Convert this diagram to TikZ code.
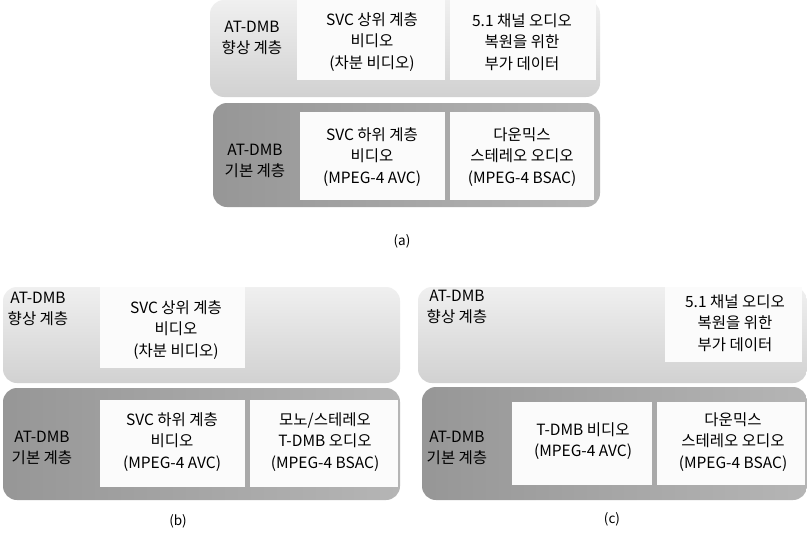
\documentclass[tikz,border=0pt]{standalone}
\usepackage{fontspec}
\setmainfont{Noto Sans CJK KR}
\begin{document}
\begin{tikzpicture}[x=1pt,y=-1pt,
  lightpanel/.style={rounded corners=14pt, top color=gray!12, bottom color=gray!36, draw=none},
  darkpanel/.style={rounded corners=14pt, left color=gray!82, right color=gray!58, draw=none},
  whitebox/.style={fill=gray!3, draw=none},
  txt/.style={align=center, font=\fontsize{15.5}{21.5}\selectfont, inner sep=0pt},
  caption/.style={font=\fontsize{13.5}{15}\selectfont, inner sep=0pt}]
\useasboundingbox (0,0) rectangle (807,541);
\fill[white] (0,0) rectangle (807,541);

% ---------------- (a)
\path[lightpanel] (210,0) rectangle (600,97);
\path[whitebox] (297,0) rectangle (445,80);
\path[whitebox] (450,0) rectangle (596,80);
\node[txt] (aL1) at (252,38) {AT-DMB\\향상 계층};
\node[txt] (aT1) at (372,42) {SVC 상위 계층\\비디오\\(차분 비디오)};
\node[txt] (aT2) at (522,42) {5.1 채널 오디오\\복원을 위한\\부가 데이터};
\path[darkpanel] (213,103) rectangle (600,207);
\path[whitebox] (300,112) rectangle (445,200);
\path[whitebox] (450,112) rectangle (594,200);
\node[txt] (aL2) at (255,161) {AT-DMB\\기본 계층};
\node[txt] (aB1) at (372,157) {SVC 하위 계층\\비디오\\(MPEG-4 AVC)};
\node[txt] (aB2) at (522,157) {다운믹스\\스테레오 오디오\\(MPEG-4 BSAC)};
\node[caption] (capa) at (402,241) {(a)};

% ---------------- (b)
\path[lightpanel] (3,287) rectangle (400,383);
\path[whitebox] (100,287) rectangle (245,368);
\node[txt] (bL1) at (38,309) {AT-DMB\\향상 계층};
\node[txt] (bT1) at (176,330) {SVC 상위 계층\\비디오\\(차분 비디오)};
\path[darkpanel] (3,388) rectangle (400,500);
\path[whitebox] (100,400) rectangle (245,487);
\path[whitebox] (250,400) rectangle (398,487);
\node[txt] (bL2) at (42,448) {AT-DMB\\기본 계층};
\node[txt] (bB1) at (172,442) {SVC 하위 계층\\비디오\\(MPEG-4 AVC)};
\node[txt] (bB2) at (325,442) {모노/스테레오\\T-DMB 오디오\\(MPEG-4 BSAC)};
\node[caption] (capb) at (178,521) {(b)};

% ---------------- (c)
\path[lightpanel] (418,287) rectangle (807,383);
\path[whitebox] (665,287) rectangle (802,362);
\node[txt] (cL1) at (457,307) {AT-DMB\\향상 계층};
\node[txt] (cT1) at (735,323) {5.1 채널 오디오\\복원을 위한\\부가 데이터};
\path[darkpanel] (422,387) rectangle (807,500);
\path[whitebox] (512,402) rectangle (652,485);
\path[whitebox] (657,402) rectangle (805,485);
\node[txt] (cL2) at (457,448) {AT-DMB\\기본 계층};
\node[txt] (cB1) at (583,441) {T-DMB 비디오\\(MPEG-4 AVC)};
\node[txt] (cB2) at (733,442) {다운믹스\\스테레오 오디오\\(MPEG-4 BSAC)};
\node[caption] (capc) at (612,519) {(c)};
\end{tikzpicture}
\end{document}
